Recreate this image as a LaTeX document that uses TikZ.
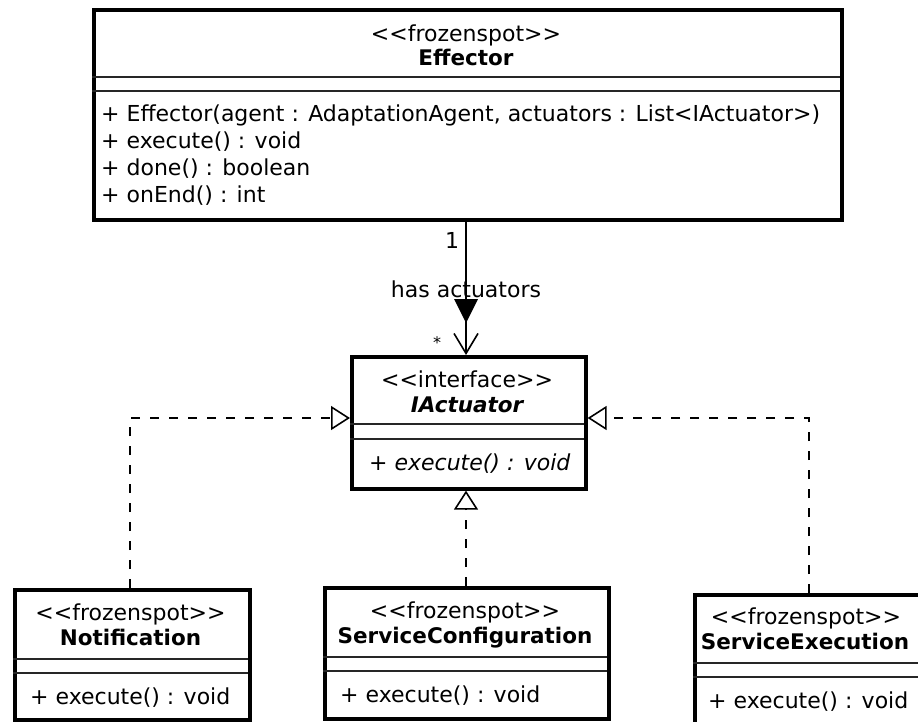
\documentclass[tikz,border=0pt]{standalone}
\usepackage{fontspec}
\setmainfont{DejaVu Sans}
\usetikzlibrary{arrows.meta}
\newcommand\stereo[1]{<\kern0pt<#1>\kern0pt>}
\begin{document}
\begin{tikzpicture}[x=1pt,y=-1pt,
  box/.style={draw, line width=3.6pt, inner sep=0pt, anchor=north west},
  sepline/.style={line width=1.3pt, draw=black!85},
  txt/.style={inner sep=0pt, anchor=base, font=\fontsize{22}{26}\selectfont},
  ntxt/.style={inner sep=0pt, anchor=base, font=\fontsize{21.5}{26}\selectfont\bfseries},
  mtxt/.style={inner sep=0pt, anchor=base west, font=\fontsize{22}{26}\selectfont},
  realize/.style={line width=1.6pt, dash pattern=on 9pt off 10pt, -{Triangle[open, length=19pt, width=24pt, line width=1.6pt]}},
  assoc/.style={line width=1.6pt, -{Straight Barb[length=20pt, width=24pt, line width=1.6pt]}}
]
\useasboundingbox (0,0) rectangle (918,721);
\clip (0,0) rectangle (918,721);

% Effector
\node[box, minimum width=748pt, minimum height=210pt] (eff) at (92,8) {};
\draw[sepline] (92,77) -- (840,77) (92,91) -- (840,91);
\node[txt] (effS) at (466,41) {\stereo{frozenspot}};
\node[ntxt] (effN) at (466,65) {Effector};
\node[mtxt] (effM1) at (101,121) {+ Effector(agent : AdaptationAgent, actuators : List<IActuator>)};
\node[mtxt] (effM2) at (101,148) {+ execute() : void};
\node[mtxt] (effM3) at (101,175) {+ done() : boolean};
\node[mtxt] (effM4) at (101,202) {+ onEnd() : int};

% IActuator
\node[box, minimum width=234pt, minimum height=132pt] (iact) at (350,355) {};
\draw[sepline] (350,424) -- (584,424) (350,439) -- (584,439);
\node[txt] (iactS) at (467,387) {\stereo{interface}};
\node[ntxt, font=\fontsize{21.5}{26}\selectfont\bfseries\itshape] (iactN) at (467,412) {IActuator};
\node[mtxt, font=\fontsize{22}{26}\selectfont\itshape] (iactM) at (369,470) {+ execute() : void};

% Notification
\node[box, minimum width=235pt, minimum height=130pt] (notif) at (13,588) {};
\draw[sepline] (13,659) -- (248,659) (13,673) -- (248,673);
\node[txt] (notifS) at (130.5,620) {\stereo{frozenspot}};
\node[ntxt] (notifN) at (130.5,645) {Notification};
\node[mtxt] (notifM) at (30,704) {+ execute() : void};

% ServiceConfiguration
\node[box, minimum width=284pt, minimum height=131pt] (conf) at (323,586) {};
\draw[sepline] (323,657) -- (607,657) (323,671) -- (607,671);
\node[txt] (confS) at (465,618) {\stereo{frozenspot}};
\node[ntxt] (confN) at (465,643) {ServiceConfiguration};
\node[mtxt] (confM) at (340,702) {+ execute() : void};

% ServiceExecution
\node[box, minimum width=234pt, minimum height=131pt] (exec) at (693,593) {};
\draw[sepline] (693,663) -- (927,663) (693,677) -- (927,677);
\node[txt] (execS) at (806,624) {\stereo{frozenspot}};
\node[ntxt] (execN) at (805,649) {ServiceExecution};
\node[mtxt] (execM) at (708,708) {+ execute() : void};

% association
\coordinate (aTop) at (466,218);
\coordinate (aBot) at (466,355);
\draw[assoc] (aTop) -- (aBot);
\fill (454,299) -- (478,299) -- (466,323) -- cycle;
\node[txt] (mult1) at (452,248) {1};
\node[txt] (role) at (466,297) {has actuators};
\node[txt, font=\fontsize{16}{20}\selectfont] (multS) at (437,348) {*};

% realizations
\coordinate (nUp) at (130,418);
\coordinate (eUp) at (809,418);
\draw[realize] (notif.north -| nUp) -- (nUp) -- (nUp -| iact.west);
\draw[realize] (conf.north -| aTop) -- (iact.south -| aTop);
\draw[realize] (exec.north -| eUp) -- (eUp) -- (eUp -| iact.east);
\end{tikzpicture}
\end{document}
